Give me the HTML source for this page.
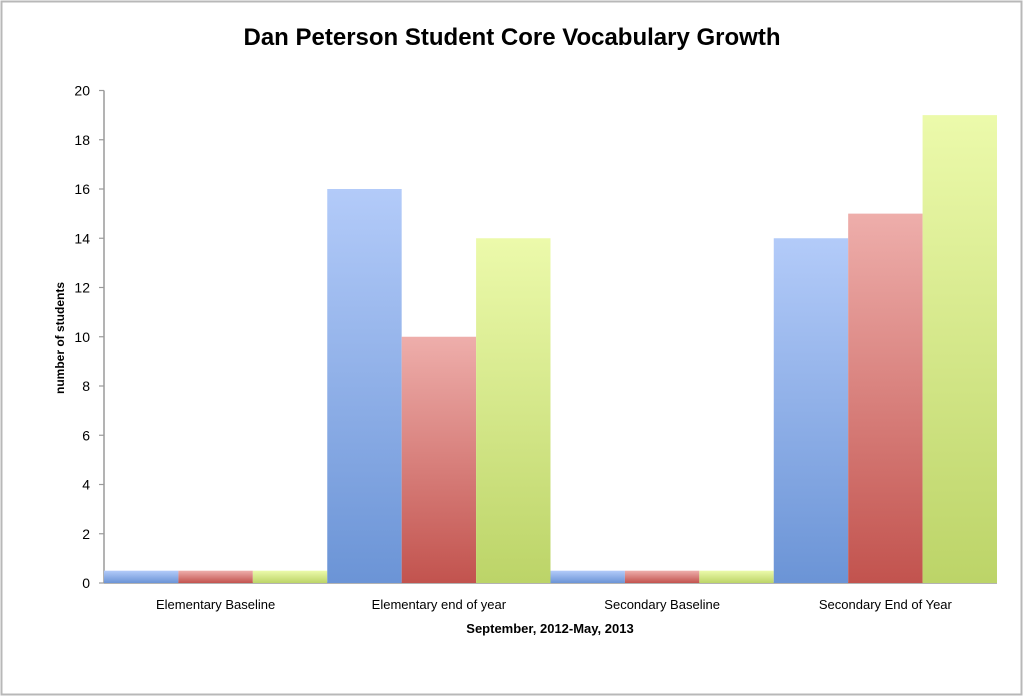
<!DOCTYPE html>
<html><head><meta charset="utf-8"><style>
html,body{margin:0;padding:0;background:#fff}
svg{display:block;font-family:"Liberation Sans",sans-serif}
</style></head><body>
<svg width="1024" height="697" viewBox="0 0 1024 697">
<defs>
<linearGradient id="gb" x1="0" y1="0" x2="0" y2="1"><stop offset="0" stop-color="#b3cbf9"/><stop offset="1" stop-color="#6b94d6"/></linearGradient>
<linearGradient id="gr" x1="0" y1="0" x2="0" y2="1"><stop offset="0" stop-color="#eeaeab"/><stop offset="1" stop-color="#c2534e"/></linearGradient>
<linearGradient id="gg" x1="0" y1="0" x2="0" y2="1"><stop offset="0" stop-color="#ecfaab"/><stop offset="1" stop-color="#bcd468"/></linearGradient>
</defs>
<rect x="1.5" y="1.5" width="1020" height="693" fill="#fff" stroke="#b8b8b8" stroke-width="2"/>
<text x="512" y="45" text-anchor="middle" font-size="24" font-weight="bold" fill="#000">Dan Peterson Student Core Vocabulary Growth</text>
<g id="axes"></g>
<g id="bars"></g>
<text x="0" y="0" transform="translate(64,338) rotate(-90)" text-anchor="middle" font-size="12" font-weight="bold">number of students</text>
<text x="550" y="633" text-anchor="middle" font-size="13" font-weight="bold">September, 2012-May, 2013</text>
</svg>
<script>
const categories=["Elementary Baseline","Elementary end of year","Secondary Baseline","Secondary End of Year"];
const seriesBlue=[0.5,16,0.5,14];
const seriesRed=[0.5,10,0.5,15];
const seriesGreen=[0.5,14,0.5,19];
const yTicks=[0,2,4,6,8,10,12,14,16,18,20];
const NS="http://www.w3.org/2000/svg";
const X0=104,X1=997,Y0=583,Y1=90.5,YMAX=20;
const y=v=>Y0-(v/YMAX)*(Y0-Y1);
const gw=(X1-X0)/categories.length;
const axes=document.getElementById('axes'),bars=document.getElementById('bars');
function mk(t,a,p){const e=document.createElementNS(NS,t);for(const k in a)e.setAttribute(k,a[k]);p.appendChild(e);return e;}
const ax=mk('line',{x1:X0,y1:Y1,x2:X0,y2:Y0,stroke:'#9a9a9a','stroke-width':1.5},axes);


const bx=mk('line',{x1:X0,y1:Y0,x2:X1,y2:Y0,stroke:'#9a9a9a','stroke-width':1.5},axes);


yTicks.forEach(t=>{
 const l=mk('line',{x1:X0-5,y1:y(t),x2:X0,y2:y(t),stroke:'#9a9a9a','stroke-width':1.2},axes);
 
 
 const tx=mk('text',{x:X0-14,y:y(t)+5,'text-anchor':'end','font-size':14},axes);
 tx.textContent=t;
 
 
});
const series=[[seriesBlue,'url(#gb)'],[seriesRed,'url(#gr)'],[seriesGreen,'url(#gg)']];
const bw=gw/3;
categories.forEach((c,i)=>{
 series.forEach((s,j)=>{
  const v=s[0][i];
  const r=mk('rect',{x:X0+i*gw+j*bw,y:y(v),width:bw,height:Y0-y(v),fill:s[1]},bars);
  
  
 });
 const tx=mk('text',{x:X0+i*gw+gw/2,y:609,'text-anchor':'middle','font-size':13},axes);
 tx.textContent=c;
 
 
});
</script>
</body></html>
